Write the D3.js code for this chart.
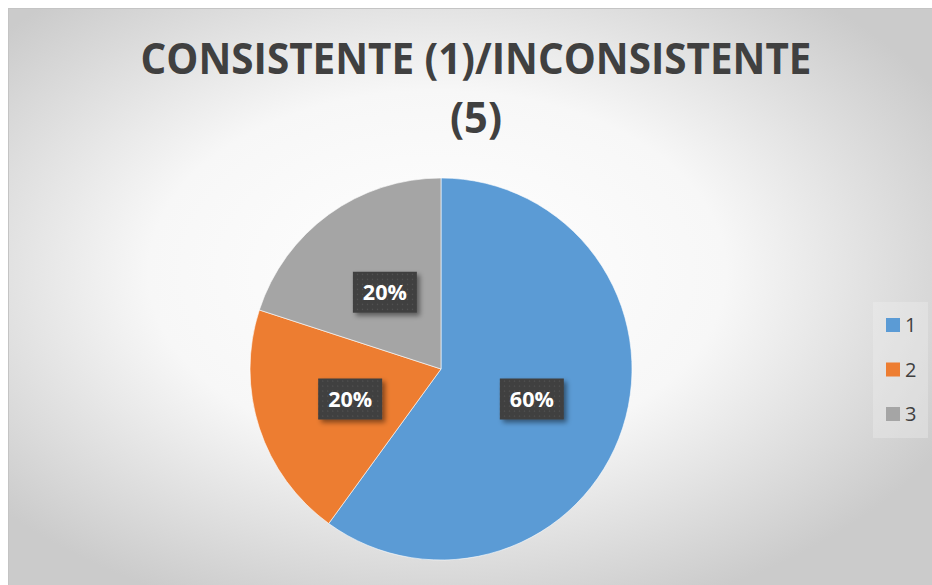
<!DOCTYPE html>
<html>
<head>
<meta charset="utf-8">
<script src="https://cdn.jsdelivr.net/npm/d3@7"></script>
<style>
  body { margin: 0; background: #fff; }
  text { font-family: "Open Sans", sans-serif; }
</style>
</head>
<body>
<div id="chart"></div>
<script>
var width = 932;
var height = 585;

// data
var categories = ["1", "2", "3"];
var values = [60, 20, 20];
var colors = ["#5b9bd5", "#ed7d31", "#a5a5a5"];
var titleLines = ["CONSISTENTE (1)/INCONSISTENTE", "(5)"];

var svg = d3.select("#chart")
    .append("svg")
    .attr("width", width)
    .attr("height", height);

var defs = svg.append("defs");

var bg = defs.append("radialGradient")
    .attr("id", "bg")
    .attr("cx", "0.46").attr("cy", "0.45").attr("r", "0.62");
bg.append("stop").attr("offset", "0").attr("stop-color", "#ffffff");
bg.append("stop").attr("offset", "0.5").attr("stop-color", "#f7f7f7");
bg.append("stop").attr("offset", "1").attr("stop-color", "#cbcbcb");

var dots = defs.append("pattern")
    .attr("id", "dots")
    .attr("width", 5).attr("height", 5)
    .attr("patternUnits", "userSpaceOnUse");
dots.append("rect").attr("width", 5).attr("height", 5).attr("fill", "#3f3f3f");
dots.append("rect").attr("x", 2).attr("y", 2).attr("width", 1.2).attr("height", 1.2).attr("fill", "#595959");

var shadow = defs.append("filter").attr("id", "shadow")
    .attr("x", "-20%").attr("y", "-20%").attr("width", "150%").attr("height", "160%");
shadow.append("feDropShadow")
    .attr("dx", 3).attr("dy", 3).attr("stdDeviation", 2.5)
    .attr("flood-color", "#000").attr("flood-opacity", 0.45);

// chart area
svg.append("rect")
    .attr("x", 8.5).attr("y", 8.5)
    .attr("width", width).attr("height", height)
    .attr("fill", "url(#bg)")
    .attr("stroke", "#c4c4c4");

// title
svg.append("g").selectAll("text")
    .data(titleLines)
    .enter().append("text")
    .attr("x", 476)
    .attr("y", function(d, i) { return 74 + i * 59; })
    .attr("text-anchor", "middle")
    .attr("font-size", 43)
    .attr("font-weight", "bold")
    .attr("fill", "#404040")
    .attr("textLength", function(d, i) { return i == 0 ? 671 : 52; })
    .attr("lengthAdjust", "spacingAndGlyphs")
    .text(function(d) { return d; });

// pie
var cx = 441, cy = 369, radius = 191;
var pie = d3.pie().sort(null).value(function(d) { return d; });
var arcs = pie(values);
var arc = d3.arc().innerRadius(0).outerRadius(radius);
var labelArc = d3.arc().innerRadius(radius * 0.5).outerRadius(radius * 0.5);
var total = d3.sum(values);

var g = svg.append("g").attr("transform", "translate(" + cx + "," + cy + ")");

g.selectAll("path")
    .data(arcs)
    .enter().append("path")
    .attr("d", arc)
    .attr("fill", function(d, i) { return colors[i]; })
    .attr("stroke", "#fff")
    .attr("stroke-width", 0.6);

var label = g.selectAll("g.label")
    .data(arcs)
    .enter().append("g")
    .attr("class", "label")
    .attr("transform", function(d) { return "translate(" + labelArc.centroid(d) + ")"; });

label.append("rect")
    .attr("x", -32).attr("y", -20)
    .attr("width", 64).attr("height", 41)
    .attr("fill", "url(#dots)")
    .attr("filter", "url(#shadow)");

label.append("text")
    .attr("text-anchor", "middle")
    .attr("dy", 8.5)
    .attr("font-size", 22)
    .attr("font-weight", "bold")
    .attr("fill", "#fff")
    .attr("textLength", 44)
    .attr("lengthAdjust", "spacingAndGlyphs")
    .text(function(d) { return d3.format(".0%")(d.value / total); });

// legend
var legend = svg.append("g");
legend.append("rect")
    .attr("x", 873).attr("y", 302)
    .attr("width", 55).attr("height", 136)
    .attr("fill", "#f2f2f2").attr("fill-opacity", 0.35);

var item = legend.selectAll("g.item")
    .data(categories)
    .enter().append("g")
    .attr("class", "item")
    .attr("transform", function(d, i) { return "translate(886," + (318 + i * 44.5) + ")"; });

item.append("rect")
    .attr("width", 14).attr("height", 14)
    .attr("fill", function(d, i) { return colors[i]; });

item.append("text")
    .attr("x", 19).attr("y", 14)
    .attr("font-size", 20)
    .attr("fill", "#404040")
    .text(function(d) { return d; });
</script>
</body>
</html>
